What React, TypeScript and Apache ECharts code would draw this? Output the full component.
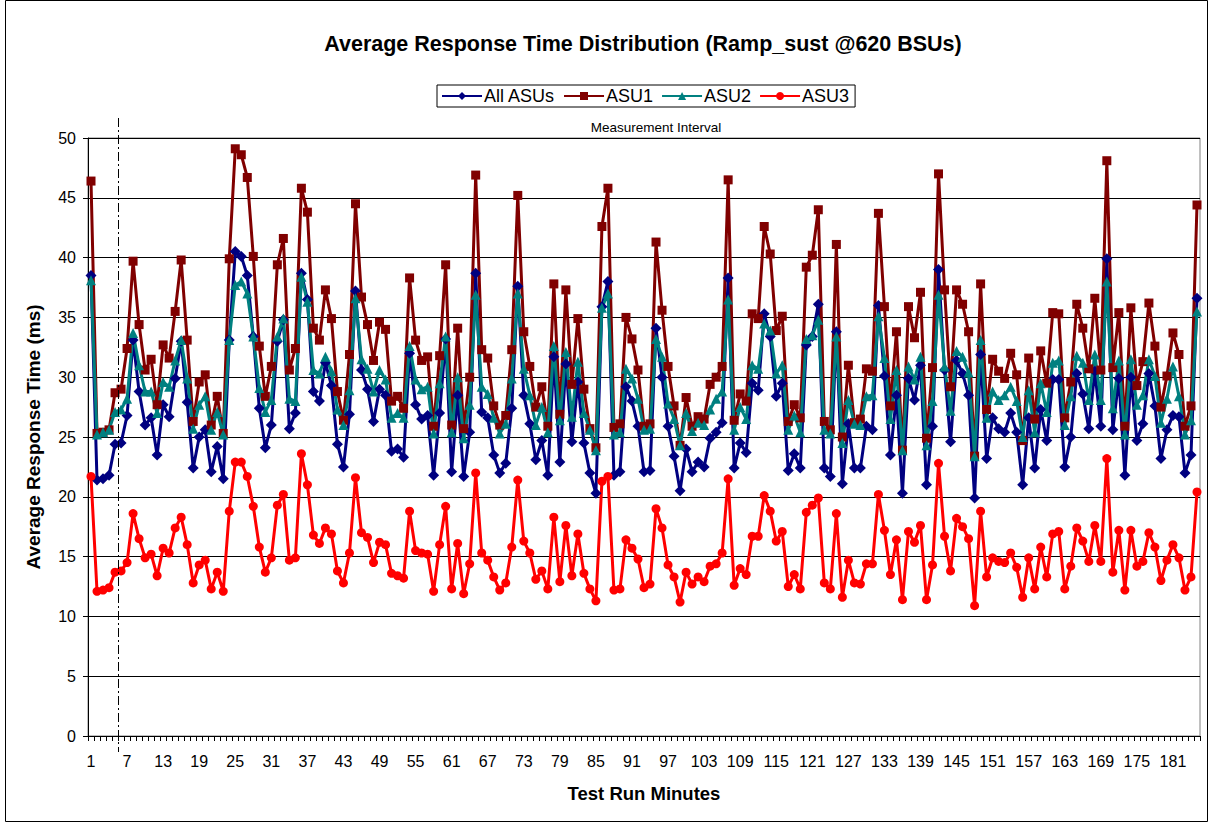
import React, { useEffect, useRef } from 'react';
import * as echarts from 'echarts';

const minutes: string[] = Array.from({ length: 185 }, (_, i) => String(i + 1));

const allAsus = [
  38.5, 21.4, 21.5, 21.8, 24.4, 24.5, 26.8, 33.1, 28.8, 26.0,
  26.6, 23.5, 27.7, 26.7, 29.9, 33.0, 27.9, 22.4, 25.0, 25.6,
  22.1, 24.2, 21.5, 33.1, 40.5, 40.1, 38.5, 33.4, 27.4, 24.1,
  26.0, 33.0, 34.8, 25.7, 27.0, 38.7, 36.5, 28.8, 28.0, 31.2,
  29.3, 24.4, 22.5, 26.9, 37.2, 30.6, 29.0, 26.3, 29.0, 28.5,
  23.8, 24.0, 23.3, 32.0, 27.7, 26.5, 26.8, 21.8, 27.0, 33.2,
  22.1, 28.5, 21.7, 25.4, 38.7, 27.1, 26.6, 23.5, 22.0, 22.8,
  27.4, 37.6, 28.5, 26.1, 23.1, 24.7, 21.8, 31.7, 22.9, 31.1,
  24.6, 29.6, 24.5, 22.0, 20.3, 35.9, 38.0, 21.8, 22.1, 29.2,
  28.0, 25.9, 22.1, 22.2, 34.1, 30.0, 25.9, 23.4, 20.5, 24.0,
  22.1, 22.9, 22.5, 24.9, 25.4, 26.2, 38.3, 22.4, 24.5, 23.7,
  29.5, 28.9, 35.3, 33.4, 28.4, 29.5, 22.2, 23.6, 22.4, 32.7,
  33.4, 36.1, 22.4, 21.7, 33.8, 21.1, 26.1, 22.4, 22.4, 25.9,
  25.6, 36.0, 30.1, 23.5, 28.5, 20.3, 29.9, 28.1, 31.0, 21.0,
  25.9, 39.0, 30.6, 24.6, 31.4, 30.3, 28.5, 19.9, 31.9, 23.2,
  26.6, 25.7, 25.4, 27.0, 25.4, 21.0, 26.6, 22.4, 27.3, 24.7,
  29.8, 29.8, 22.5, 25.0, 30.3, 28.6, 25.7, 30.5, 25.9, 39.9,
  25.6, 29.9, 21.8, 30.0, 24.7, 26.1, 30.3, 27.6, 23.2, 25.6,
  26.8, 26.7, 22.0, 23.5, 36.6,
];

const asu1 = [
  46.4, 25.3, 25.4, 25.6, 28.7, 29.0, 32.4, 39.7, 34.4, 30.6,
  31.5, 27.7, 32.7, 31.6, 35.5, 39.8, 33.1, 26.3, 29.6, 30.2,
  26.0, 28.4, 25.3, 39.9, 49.1, 48.6, 46.7, 40.1, 32.6, 28.4,
  30.9, 39.4, 41.6, 30.6, 32.4, 45.8, 43.8, 34.1, 33.1, 37.3,
  34.9, 28.8, 26.4, 31.9, 44.5, 36.7, 34.4, 31.4, 34.6, 34.0,
  28.0, 28.4, 27.4, 38.3, 33.1, 31.4, 31.7, 25.9, 31.8, 39.4,
  26.0, 34.1, 25.7, 30.0, 46.9, 32.3, 31.6, 27.6, 26.0, 26.8,
  32.3, 45.2, 33.8, 30.9, 27.5, 29.2, 25.9, 37.8, 26.9, 37.3,
  29.4, 34.9, 29.0, 25.7, 24.1, 42.6, 45.8, 25.8, 26.1, 35.0,
  33.2, 30.6, 25.9, 26.1, 41.3, 35.6, 30.9, 27.6, 24.3, 28.3,
  25.9, 26.7, 26.5, 29.4, 30.0, 30.9, 46.5, 26.4, 28.6, 28.0,
  35.3, 34.9, 42.6, 40.3, 33.9, 35.1, 26.3, 27.7, 26.6, 39.2,
  40.2, 44.0, 26.3, 25.6, 41.1, 25.0, 31.0, 26.2, 26.5, 30.7,
  30.5, 43.7, 35.9, 27.6, 33.8, 23.9, 35.9, 33.3, 37.1, 24.9,
  30.8, 47.0, 37.3, 29.2, 37.3, 36.1, 33.8, 23.4, 37.8, 27.3,
  31.5, 30.5, 29.9, 32.0, 30.2, 24.7, 31.6, 26.5, 32.2, 29.5,
  35.4, 35.3, 26.6, 29.6, 36.1, 34.1, 30.7, 36.6, 30.6, 48.1,
  30.8, 35.4, 25.9, 35.8, 29.3, 31.3, 36.2, 32.6, 27.5, 30.1,
  33.7, 31.9, 25.9, 27.6, 44.4,
];

const asu2 = [
  38.1, 25.2, 25.4, 25.6, 27.1, 27.3, 28.2, 33.7, 31.0, 28.8,
  28.8, 27.0, 29.6, 29.2, 31.4, 33.1, 29.9, 25.7, 27.7, 28.4,
  25.6, 27.1, 25.2, 33.1, 37.7, 38.0, 37.0, 33.4, 29.1, 27.1,
  28.1, 33.4, 34.9, 28.2, 28.0, 38.4, 36.3, 30.6, 30.3, 31.7,
  30.5, 27.3, 26.0, 28.9, 36.6, 31.5, 30.7, 28.8, 30.6, 29.8,
  26.6, 27.0, 26.6, 32.6, 29.8, 29.0, 29.2, 25.3, 29.5, 33.4,
  25.4, 30.0, 24.9, 27.7, 36.9, 29.2, 28.6, 26.6, 25.3, 26.1,
  29.9, 37.0, 30.7, 28.5, 26.0, 27.5, 25.4, 32.6, 26.4, 32.1,
  26.7, 31.3, 27.0, 25.6, 23.9, 35.8, 37.0, 25.2, 25.4, 30.7,
  29.9, 28.2, 25.6, 25.7, 33.2, 31.7, 27.8, 26.5, 24.3, 27.0,
  25.5, 26.2, 26.0, 27.3, 28.2, 28.8, 36.5, 25.6, 27.5, 26.5,
  31.0, 30.7, 34.5, 33.9, 30.3, 31.0, 25.6, 26.8, 25.4, 33.2,
  33.5, 34.8, 25.6, 25.3, 33.4, 24.5, 28.1, 26.1, 26.0, 28.4,
  28.5, 35.1, 31.6, 26.5, 30.6, 23.9, 30.9, 29.8, 31.7, 24.3,
  28.0, 36.9, 30.9, 27.2, 32.2, 31.7, 30.4, 23.4, 33.1, 26.6,
  28.8, 28.1, 28.5, 29.2, 28.0, 25.0, 28.9, 25.4, 29.5, 27.1,
  31.2, 31.4, 26.0, 28.4, 31.8, 31.2, 28.1, 31.9, 28.1, 38.0,
  27.4, 31.4, 25.2, 31.5, 27.7, 28.5, 31.5, 30.1, 26.2, 28.2,
  30.9, 28.4, 25.2, 26.4, 35.5,
];

const asu3 = [
  21.7, 12.1, 12.2, 12.4, 13.7, 13.8, 14.5, 18.6, 16.5, 14.9,
  15.2, 13.4, 15.7, 15.3, 17.4, 18.3, 16.0, 12.8, 14.3, 14.7,
  12.3, 13.7, 12.1, 18.8, 22.9, 22.9, 21.7, 19.2, 15.8, 13.7,
  14.9, 19.3, 20.2, 14.7, 14.9, 23.6, 21.0, 16.8, 16.1, 17.4,
  16.9, 13.8, 12.8, 15.3, 21.6, 17.0, 16.6, 14.5, 16.2, 16.0,
  13.6, 13.4, 13.2, 18.8, 15.5, 15.3, 15.2, 12.1, 16.0, 19.2,
  12.3, 16.1, 11.9, 14.4, 22.0, 15.3, 14.7, 13.3, 12.2, 12.8,
  15.8, 21.4, 16.3, 15.3, 13.1, 13.8, 12.3, 18.3, 12.9, 17.6,
  13.4, 16.9, 13.6, 12.3, 11.3, 21.3, 21.7, 12.2, 12.3, 16.4,
  15.7, 14.8, 12.4, 12.7, 19.0, 17.4, 14.3, 13.3, 11.2, 13.7,
  12.7, 13.3, 12.9, 14.2, 14.4, 15.3, 21.5, 12.6, 14.0, 13.5,
  16.7, 16.7, 20.1, 18.8, 16.3, 17.1, 12.5, 13.5, 12.3, 18.7,
  19.3, 19.9, 12.8, 12.3, 18.6, 11.6, 14.7, 12.8, 12.7, 14.4,
  14.4, 20.2, 17.2, 13.5, 16.4, 11.4, 17.1, 16.2, 17.6, 11.4,
  14.3, 22.8, 16.7, 13.8, 18.2, 17.5, 16.5, 10.9, 18.8, 13.3,
  14.9, 14.6, 14.5, 15.3, 14.1, 11.6, 14.9, 12.3, 15.8, 13.3,
  16.9, 17.1, 12.3, 14.2, 17.4, 16.3, 14.6, 17.6, 14.6, 23.2,
  13.7, 17.2, 12.2, 17.2, 14.2, 14.6, 17.0, 15.8, 13.0, 14.7,
  16.0, 14.9, 12.2, 13.3, 20.4,
];

const measurementStartIndex = 5; // minute 6 starts the measurement interval

const FONT = 'Liberation Sans, Arial, sans-serif';

export default function App() {
  const ref = useRef<HTMLDivElement>(null);

  useEffect(() => {
    if (!ref.current) return;
    const chart = echarts.init(ref.current, null, { renderer: 'svg' });

    const mk = (name: string, data: number[], color: string, symbol: string, size: number) => ({
      name,
      type: 'line',
      data,
      symbol,
      symbolSize: size,
      showSymbol: true,
      showAllSymbol: true,
      itemStyle: { color },
      lineStyle: { color, width: 3 },
      emphasis: { disabled: true },
    });

    chart.setOption({
      animation: false,
      backgroundColor: '#ffffff',
      textStyle: { fontFamily: FONT, color: '#000' },
      title: {
        text: 'Average Response Time Distribution (Ramp_sust @620 BSUs)',
        left: 638,
        top: 28,
        textAlign: 'center',
        textStyle: { fontFamily: FONT, fontSize: 21.5, fontWeight: 'bold', color: '#000' },
      },
      legend: {
        left: 437,
        top: 85,
        itemWidth: 40,
        itemHeight: 10,
        itemGap: 8,
        padding: [2, 6, 2, 4],
        borderColor: '#000',
        borderWidth: 1,
        textStyle: { fontFamily: FONT, fontSize: 18, color: '#000', padding: [0, 0, 0, -3] },
        data: ['All ASUs', 'ASU1', 'ASU2', 'ASU3'],
      },
      grid: {
        left: 88,
        right: 9,
        top: 138,
        bottom: 87,
        show: true,
        borderColor: '#808080',
        borderWidth: 1,
        backgroundColor: 'transparent',
      },
      xAxis: {
        type: 'category',
        data: minutes,
        boundaryGap: true,
        name: 'Test Run Minutes',
        nameLocation: 'middle',
        nameGap: 48,
        nameTextStyle: { fontFamily: FONT, fontSize: 18.5, fontWeight: 'bold', color: '#000' },
        axisLine: { lineStyle: { color: '#000', width: 1 } },
        axisTick: { show: true, interval: 0, length: 5, lineStyle: { color: '#000' } },
        axisLabel: { interval: 5, fontSize: 16, color: '#000', fontFamily: FONT, margin: 17 },
        splitLine: { show: false },
      },
      yAxis: {
        type: 'value',
        min: 0,
        max: 50,
        interval: 5,
        name: 'Average Response Time (ms)',
        nameLocation: 'middle',
        nameGap: 45,
        nameTextStyle: { fontFamily: FONT, fontSize: 19, fontWeight: 'bold', color: '#000' },
        axisLine: { show: true, lineStyle: { color: '#000', width: 1 } },
        axisTick: { show: true, length: 5, lineStyle: { color: '#000' } },
        axisLabel: { fontSize: 16, color: '#000', fontFamily: FONT, margin: 12 },
        splitLine: { show: true, lineStyle: { color: '#000', width: 1 } },
      },
      series: [
        mk('All ASUs', allAsus, '#000080', 'diamond', 11),
        mk('ASU1', asu1, '#800000', 'rect', 9),
        mk('ASU2', asu2, '#008080', 'triangle', 10),
        mk('ASU3', asu3, '#ff0000', 'circle', 9),
      ],
    });

    const xa = chart.convertToPixel({ xAxisIndex: 0 }, measurementStartIndex - 1) as number;
    const xb = chart.convertToPixel({ xAxisIndex: 0 }, measurementStartIndex) as number;
    const xm = Math.round((xa + xb) / 2) + 0.5;

    chart.setOption({
      graphic: [
        {
          type: 'rect',
          shape: { x: 5.5, y: 0.5, width: 1202, height: 821 },
          style: { fill: 'none', stroke: '#000', lineWidth: 1 },
          silent: true,
        },
        {
          type: 'line',
          shape: { x1: xm, y1: 118, x2: xm, y2: 752 },
          style: { stroke: '#000', lineWidth: 1, lineDash: [9, 3, 2, 3] },
          silent: true,
          z: 10,
        },
        {
          type: 'text',
          x: 656,
          y: 127,
          style: {
            text: 'Measurement Interval',
            fontFamily: FONT,
            fontSize: 13.5,
            fill: '#000',
            align: 'center',
            verticalAlign: 'middle',
          },
          silent: true,
        },
      ],
    });

    return () => chart.dispose();
  }, []);

  return (
    <div
      ref={ref}
      style={{ position: 'fixed', left: 0, top: 0, width: 1209, height: 823, background: '#fff' }}
    />
  );
}
